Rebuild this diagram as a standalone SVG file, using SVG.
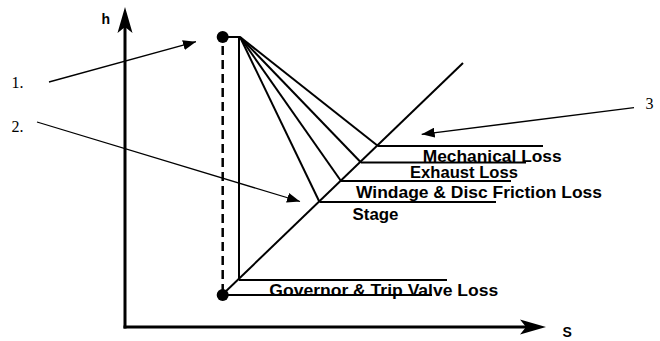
<svg xmlns="http://www.w3.org/2000/svg" width="660" height="341" viewBox="0 0 660 341">
<style>
.bg{fill:#ffffff}
.ln{stroke:#000;stroke-width:2;fill:none;stroke-linecap:butt}
.ax{stroke:#000;stroke-width:3;fill:none}
.th{stroke:#000;stroke-width:1.3;fill:none}
.dash{stroke:#000;stroke-width:2.5;fill:none;stroke-dasharray:9,5}
.lab{font-family:"Liberation Sans",Arial,sans-serif;font-weight:bold;font-size:17px;fill:#000}
.axl{font-family:"Liberation Sans",Arial,sans-serif;font-weight:bold;font-size:14px;fill:#000}
.num{font-family:"Liberation Serif","Times New Roman",serif;font-size:16px;fill:#000}
.ah{fill:#000;stroke:none}
</style>
<defs>
<marker id="tri" viewBox="0 0 13 10" refX="13" refY="5" markerWidth="13" markerHeight="10" markerUnits="userSpaceOnUse" orient="auto">
<path d="M0,0 L13,5 L0,10 Z" fill="#000"/>
</marker>
</defs>
<rect class="bg" x="0" y="0" width="660" height="341"/>

<g id="axes">
<line class="ax" x1="125" y1="328.5" x2="125" y2="24"/>
<path class="ah" d="M125,7 L132.5,33 L125,27 L117.5,33 Z"/>
<line class="ax" x1="123.5" y1="327" x2="530" y2="327"/>
<path class="ah" d="M546,327 L520,319.5 L526,327 L520,334.5 Z"/>
<text class="axl" x="101.5" y="24">h</text>
<text class="axl" x="562.5" y="337">S</text>
</g>

<g id="connectors">
<line class="dash" x1="222.7" y1="46" x2="222.7" y2="290"/>
<line class="ln" x1="222.7" y1="37" x2="240" y2="37"/>
<line class="ln" x1="239" y1="37" x2="239" y2="280"/>
<line class="ln" x1="222" y1="295" x2="463" y2="63"/>
<line class="ln" x1="222.7" y1="295" x2="432" y2="295"/>
<line class="ln" x1="239" y1="280" x2="447" y2="280"/>
<line class="ln" x1="240" y1="37" x2="319.5" y2="202"/>
<line class="ln" x1="240" y1="37" x2="341" y2="181"/>
<line class="ln" x1="240" y1="37" x2="361" y2="162.5"/>
<line class="ln" x1="240" y1="37" x2="378" y2="146"/>
<line class="ln" x1="378" y1="146" x2="543" y2="146"/>
<line class="ln" x1="361" y1="162.5" x2="526" y2="162.5"/>
<line class="ln" x1="341" y1="181" x2="511" y2="181"/>
<line class="ln" x1="319.5" y1="202" x2="496" y2="202"/>
<line class="th" x1="49" y1="82" x2="196" y2="41.7" marker-end="url(#tri)"/>
<line class="th" x1="37" y1="122" x2="300" y2="201.5" marker-end="url(#tri)"/>
<line class="th" x1="634" y1="107.7" x2="421.7" y2="134.3" marker-end="url(#tri)"/>
</g>

<g id="point-top">
<circle cx="222.7" cy="37" r="6" fill="#000"/>
</g>
<g id="point-bottom">
<circle cx="222.7" cy="295" r="6" fill="#000"/>
</g>

<g id="label-1"><text class="num" x="11.5" y="88">1.</text></g>
<g id="label-2"><text class="num" x="11.5" y="132">2.</text></g>
<g id="label-3"><text class="num" x="645.5" y="109">3</text></g>

<g id="mechanical-loss"><text class="lab" x="422.7" y="162" textLength="139" lengthAdjust="spacingAndGlyphs">Mechanical Loss</text></g>
<g id="exhaust-loss"><text class="lab" x="410" y="177.5" textLength="108" lengthAdjust="spacingAndGlyphs">Exhaust Loss</text></g>
<g id="windage-loss"><text class="lab" x="356" y="198" textLength="246" lengthAdjust="spacingAndGlyphs">Windage &amp; Disc Friction Loss</text></g>
<g id="stage"><text class="lab" x="352.5" y="220" textLength="46" lengthAdjust="spacingAndGlyphs">Stage</text></g>
<g id="governor-loss"><text class="lab" x="269.3" y="295.5" textLength="229" lengthAdjust="spacingAndGlyphs">Governor &amp; Trip Valve Loss</text></g>
</svg>
